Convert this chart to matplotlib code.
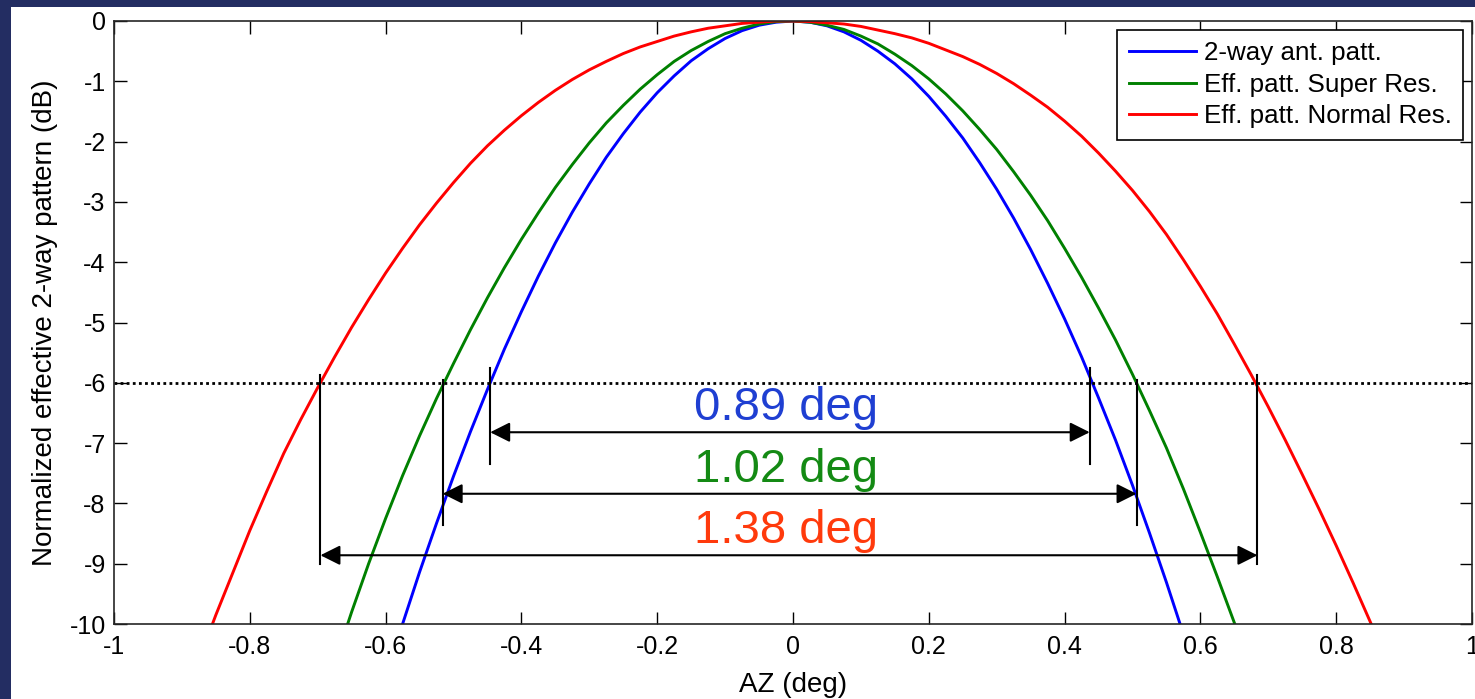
import matplotlib
matplotlib.use("Agg")
import matplotlib.pyplot as plt
from matplotlib.patches import Rectangle

plt.rcParams['font.family'] = ['Liberation Sans', 'DejaVu Sans']
plt.rcParams['axes.unicode_minus'] = False

# curves (AZ in deg, level in dB)
blue_az = [-0.6, -0.575, -0.55, -0.525, -0.5, -0.475, -0.45, -0.425, -0.4, -0.375, -0.35, -0.325,
           -0.3, -0.275, -0.25, -0.225, -0.2, -0.175, -0.15, -0.125, -0.1, -0.075, -0.05, -0.025,
           0.0, 0.025, 0.05, 0.075, 0.1, 0.125, 0.15, 0.175, 0.2, 0.225, 0.25, 0.275, 0.3,
           0.325, 0.35, 0.375, 0.4, 0.425, 0.45, 0.475, 0.5, 0.525, 0.55, 0.575, 0.6]
blue_db = [-10.89, -10.0, -9.14, -8.33, -7.55, -6.81, -6.11, -5.44, -4.82, -4.23, -3.68, -3.17,
           -2.70, -2.26, -1.87, -1.51, -1.19, -0.91, -0.66, -0.46, -0.29, -0.16, -0.07, -0.02,
           0.0, -0.02, -0.08, -0.18, -0.32, -0.50, -0.71, -0.96, -1.25, -1.58, -1.94, -2.35, -2.79,
           -3.27, -3.79, -4.35, -4.94, -5.57, -6.25, -6.95, -7.70, -8.49, -9.31, -10.17, -11.07]

green_az = [-0.675, -0.65, -0.625, -0.6, -0.575, -0.55, -0.525, -0.5, -0.475, -0.45, -0.425, -0.4,
            -0.375, -0.35, -0.325, -0.3, -0.275, -0.25, -0.225, -0.2, -0.175, -0.15, -0.125, -0.1,
            -0.075, -0.05, -0.025, 0.0, 0.025, 0.05, 0.075, 0.1, 0.125, 0.15, 0.175, 0.2, 0.225,
            0.25, 0.275, 0.3, 0.325, 0.35, 0.375, 0.4, 0.425, 0.45, 0.475, 0.5, 0.525, 0.55,
            0.575, 0.6, 0.625, 0.65, 0.675]
green_db = [-10.65, -9.80, -9.00, -8.25, -7.54, -6.88, -6.26, -5.68, -5.12, -4.59, -4.09, -3.62,
            -3.18, -2.76, -2.38, -2.02, -1.69, -1.40, -1.13, -0.89, -0.67, -0.49, -0.34, -0.21,
            -0.12, -0.05, -0.01, 0.0, -0.02, -0.07, -0.14, -0.25, -0.38, -0.55, -0.74, -0.96, -1.21,
            -1.49, -1.80, -2.13, -2.50, -2.89, -3.31, -3.77, -4.25, -4.76, -5.29, -5.86, -6.46, -7.08,
            -7.76, -8.48, -9.22, -9.98, -10.75]

red_az = [-0.875, -0.85, -0.825, -0.8, -0.775, -0.75, -0.725, -0.7, -0.675, -0.65, -0.625, -0.6,
          -0.575, -0.55, -0.525, -0.5, -0.475, -0.45, -0.425, -0.4, -0.375, -0.35, -0.325, -0.3,
          -0.275, -0.25, -0.225, -0.2, -0.175, -0.15, -0.125, -0.1, -0.075, -0.05, -0.025, 0.0,
          0.025, 0.05, 0.075, 0.1, 0.125, 0.15, 0.175, 0.2, 0.225, 0.25, 0.275, 0.3, 0.325, 0.35,
          0.375, 0.4, 0.425, 0.45, 0.475, 0.5, 0.525, 0.55, 0.575, 0.6, 0.625, 0.65, 0.675, 0.7,
          0.725, 0.75, 0.775, 0.8, 0.825, 0.85, 0.875]
red_db = [-10.6, -9.85, -9.15, -8.45, -7.80, -7.17, -6.61, -6.08, -5.57, -5.08, -4.62, -4.18,
          -3.77, -3.38, -3.02, -2.68, -2.36, -2.07, -1.81, -1.57, -1.35, -1.15, -0.97, -0.81,
          -0.67, -0.54, -0.43, -0.34, -0.25, -0.18, -0.12, -0.08, -0.04, -0.02, 0.0, 0.0,
          -0.01, -0.03, -0.05, -0.09, -0.15, -0.21, -0.28, -0.37, -0.48, -0.59, -0.72, -0.87, -1.04, -1.23,
          -1.43, -1.66, -1.91, -2.19, -2.49, -2.81, -3.16, -3.54, -3.96, -4.40, -4.86, -5.36, -5.87, -6.40,
          -6.95, -7.52, -8.10, -8.70, -9.32, -9.96, -10.62]

labels = ['2-way ant. patt.', 'Eff. patt. Super Res.', 'Eff. patt. Normal Res.']

# -6 dB beamwidth markers
bw_left = [-0.446, -0.516, -0.696]
bw_right = [0.437, 0.506, 0.684]
bw_top = [-5.75, -5.95, -5.87]
bw_bottom = [-7.35, -8.35, -9.0]
arrow_level = [-6.82, -7.84, -8.86]
bw_text = ['0.89 deg', '1.02 deg', '1.38 deg']
text_level = [-6.62, -7.64, -8.66]
text_colors = ['#1f3fd2', '#148a14', '#ff3a0c']

xticks = [-1, -0.8, -0.6, -0.4, -0.2, 0, 0.2, 0.4, 0.6, 0.8, 1]
xtick_labels = ['-1', '-0.8', '-0.6', '-0.4', '-0.2', '0', '0.2', '0.4', '0.6', '0.8', '1']
yticks = [0, -1, -2, -3, -4, -5, -6, -7, -8, -9, -10]

fig = plt.figure(figsize=(14.75, 6.99), dpi=100, facecolor='#232d62')
fig.add_artist(Rectangle((11 / 1475, 0), 1 - 11 / 1475, 692 / 699, transform=fig.transFigure,
                         facecolor='white', edgecolor='none', zorder=0))
ax = fig.add_axes([114 / 1475, 75 / 699, 1358 / 1475, 603 / 699])

ax.plot(blue_az, blue_db, color='#0000ff', lw=2.1, label=labels[0])
ax.plot(green_az, green_db, color='#008000', lw=2.1, label=labels[1])
ax.plot(red_az, red_db, color='#ff0000', lw=2.1, label=labels[2])

ax.axhline(-6, color='k', lw=2, ls=(0, (1, 1.2)), dash_capstyle='butt')

for i in range(3):
    for xv in (bw_left[i], bw_right[i]):
        ax.plot([xv, xv], [bw_top[i], bw_bottom[i]], color='k', lw=1.5)
    ax.annotate('', xy=(bw_left[i], arrow_level[i]), xytext=(bw_right[i], arrow_level[i]),
                arrowprops=dict(arrowstyle='<|-|>,head_length=0.6,head_width=0.3', mutation_scale=20,
                                color='k', lw=1.5, shrinkA=0, shrinkB=0))
    ax.text(-0.01, text_level[i], bw_text[i], color=text_colors[i], fontsize=34,
            ha='center', va='baseline')

ax.set_xlim(-1, 1)
ax.set_ylim(-10, 0)
ax.set_xticks(xticks)
ax.set_xticklabels(xtick_labels)
ax.set_yticks(yticks)
ax.set_yticklabels([str(v) for v in yticks])
ax.tick_params(direction='in', top=True, right=True, length=9, width=1, labelsize=18)
ax.tick_params(axis='x', pad=8)
ax.tick_params(axis='y', pad=6)
for s in ax.spines.values():
    s.set_linewidth(1.2)
    s.set_color('#262626')

ax.set_xlabel('AZ (deg)', fontsize=20, labelpad=9)
ax.set_ylabel('Normalized effective 2-way pattern (dB)', fontsize=20, labelpad=8)

leg = ax.legend(loc='upper right', fontsize=18.7, frameon=True, fancybox=False, framealpha=1,
                edgecolor='k', borderaxespad=0.33, handlelength=2.6, handletextpad=0.3,
                labelspacing=0.29, borderpad=0.45)
leg.get_frame().set_linewidth(1.2)

fig.savefig('out.png', dpi=100, facecolor=fig.get_facecolor())
